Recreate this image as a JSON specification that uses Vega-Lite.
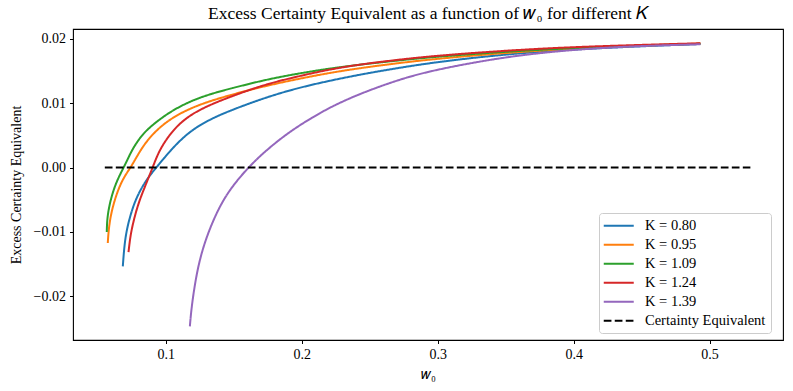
{
  "$schema": "https://vega.github.io/schema/vega-lite/v6.json",
  "width": 710,
  "height": 311,
  "autosize": {"type": "none"},
  "padding": {"left": 73, "top": 29, "right": 10, "bottom": 51},
  "background": "white",
  "config": {
    "font": "Liberation Serif",
    "view": {"stroke": "#000000", "strokeWidth": 1.1},
    "axis": {
      "grid": false,
      "domain": false,
      "tickColor": "#000000",
      "tickSize": 3.5,
      "tickWidth": 1,
      "labelFont": "Liberation Serif",
      "labelFontSize": 14,
      "labelColor": "#000000",
      "titleFont": "Liberation Serif",
      "titleFontSize": 14,
      "titleFontWeight": "normal",
      "titleColor": "#000000"
    }
  },
  "title": {
    "text": "Excess Certainty Equivalent as a function of 𝑤₀ for different 𝐾",
    "frame": "group",
    "anchor": "middle",
    "font": "Liberation Serif",
    "fontSize": 17.5,
    "fontWeight": "normal",
    "color": "#000000",
    "offset": 7
  },
  "data": {
    "values": [
      {"s": "K = 0.80", "w": 0.06834, "v": -0.01538},
      {"s": "K = 0.80", "w": 0.06929, "v": -0.01268},
      {"s": "K = 0.80", "w": 0.07054, "v": -0.01046},
      {"s": "K = 0.80", "w": 0.07297, "v": -0.00813},
      {"s": "K = 0.80", "w": 0.07644, "v": -0.00572},
      {"s": "K = 0.80", "w": 0.08085, "v": -0.00362},
      {"s": "K = 0.80", "w": 0.08697, "v": -0.00152},
      {"s": "K = 0.80", "w": 0.09359, "v": 0.00014},
      {"s": "K = 0.80", "w": 0.09801, "v": 0.00128},
      {"s": "K = 0.80", "w": 0.10420, "v": 0.00283},
      {"s": "K = 0.80", "w": 0.11274, "v": 0.00469},
      {"s": "K = 0.80", "w": 0.12261, "v": 0.00632},
      {"s": "K = 0.80", "w": 0.13483, "v": 0.00772},
      {"s": "K = 0.80", "w": 0.14713, "v": 0.00884},
      {"s": "K = 0.80", "w": 0.17165, "v": 0.01078},
      {"s": "K = 0.80", "w": 0.19625, "v": 0.01234},
      {"s": "K = 0.80", "w": 0.22077, "v": 0.01352},
      {"s": "K = 0.80", "w": 0.24529, "v": 0.01456},
      {"s": "K = 0.80", "w": 0.26988, "v": 0.01545},
      {"s": "K = 0.80", "w": 0.29440, "v": 0.01627},
      {"s": "K = 0.80", "w": 0.33859, "v": 0.01739},
      {"s": "K = 0.80", "w": 0.39013, "v": 0.01829},
      {"s": "K = 0.80", "w": 0.44904, "v": 0.01886},
      {"s": "K = 0.80", "w": 0.49323, "v": 0.01922},

      {"s": "K = 0.95", "w": 0.05729, "v": -0.01175},
      {"s": "K = 0.95", "w": 0.05781, "v": -0.00995},
      {"s": "K = 0.95", "w": 0.05928, "v": -0.00761},
      {"s": "K = 0.95", "w": 0.06171, "v": -0.00553},
      {"s": "K = 0.95", "w": 0.06487, "v": -0.00347},
      {"s": "K = 0.95", "w": 0.06907, "v": -0.00152},
      {"s": "K = 0.95", "w": 0.07423, "v": 0.00005},
      {"s": "K = 0.95", "w": 0.07842, "v": 0.00160},
      {"s": "K = 0.95", "w": 0.08328, "v": 0.00335},
      {"s": "K = 0.95", "w": 0.09065, "v": 0.00530},
      {"s": "K = 0.95", "w": 0.10052, "v": 0.00715},
      {"s": "K = 0.95", "w": 0.11274, "v": 0.00870},
      {"s": "K = 0.95", "w": 0.12747, "v": 0.01001},
      {"s": "K = 0.95", "w": 0.14713, "v": 0.01127},
      {"s": "K = 0.95", "w": 0.17165, "v": 0.01262},
      {"s": "K = 0.95", "w": 0.19625, "v": 0.01374},
      {"s": "K = 0.95", "w": 0.22077, "v": 0.01475},
      {"s": "K = 0.95", "w": 0.24529, "v": 0.01554},
      {"s": "K = 0.95", "w": 0.26988, "v": 0.01622},
      {"s": "K = 0.95", "w": 0.29440, "v": 0.01681},
      {"s": "K = 0.95", "w": 0.33859, "v": 0.01767},
      {"s": "K = 0.95", "w": 0.39013, "v": 0.01841},
      {"s": "K = 0.95", "w": 0.44904, "v": 0.01896},
      {"s": "K = 0.95", "w": 0.49323, "v": 0.01929},

      {"s": "K = 1.09", "w": 0.05655, "v": -0.01004},
      {"s": "K = 1.09", "w": 0.05677, "v": -0.00813},
      {"s": "K = 1.09", "w": 0.05825, "v": -0.00606},
      {"s": "K = 1.09", "w": 0.06075, "v": -0.00398},
      {"s": "K = 1.09", "w": 0.06414, "v": -0.00199},
      {"s": "K = 1.09", "w": 0.06870, "v": -0.00012},
      {"s": "K = 1.09", "w": 0.07224, "v": 0.00143},
      {"s": "K = 1.09", "w": 0.07592, "v": 0.00306},
      {"s": "K = 1.09", "w": 0.08328, "v": 0.00535},
      {"s": "K = 1.09", "w": 0.09315, "v": 0.00715},
      {"s": "K = 1.09", "w": 0.10538, "v": 0.00897},
      {"s": "K = 1.09", "w": 0.12010, "v": 0.01052},
      {"s": "K = 1.09", "w": 0.13483, "v": 0.01156},
      {"s": "K = 1.09", "w": 0.14713, "v": 0.01226},
      {"s": "K = 1.09", "w": 0.17165, "v": 0.01358},
      {"s": "K = 1.09", "w": 0.19625, "v": 0.01459},
      {"s": "K = 1.09", "w": 0.22077, "v": 0.01542},
      {"s": "K = 1.09", "w": 0.24529, "v": 0.01607},
      {"s": "K = 1.09", "w": 0.26988, "v": 0.01663},
      {"s": "K = 1.09", "w": 0.29440, "v": 0.01716},
      {"s": "K = 1.09", "w": 0.33859, "v": 0.01787},
      {"s": "K = 1.09", "w": 0.39013, "v": 0.01852},
      {"s": "K = 1.09", "w": 0.44904, "v": 0.01897},
      {"s": "K = 1.09", "w": 0.49323, "v": 0.01925},

      {"s": "K = 1.24", "w": 0.07253, "v": -0.01315},
      {"s": "K = 1.24", "w": 0.07401, "v": -0.01046},
      {"s": "K = 1.24", "w": 0.07644, "v": -0.00813},
      {"s": "K = 1.24", "w": 0.07960, "v": -0.00572},
      {"s": "K = 1.24", "w": 0.08380, "v": -0.00339},
      {"s": "K = 1.24", "w": 0.08711, "v": -0.00168},
      {"s": "K = 1.24", "w": 0.09028, "v": 0.0},
      {"s": "K = 1.24", "w": 0.09315, "v": 0.00159},
      {"s": "K = 1.24", "w": 0.09683, "v": 0.00322},
      {"s": "K = 1.24", "w": 0.10295, "v": 0.00516},
      {"s": "K = 1.24", "w": 0.11031, "v": 0.00690},
      {"s": "K = 1.24", "w": 0.12010, "v": 0.00845},
      {"s": "K = 1.24", "w": 0.13240, "v": 0.00974},
      {"s": "K = 1.24", "w": 0.14713, "v": 0.01099},
      {"s": "K = 1.24", "w": 0.17165, "v": 0.01285},
      {"s": "K = 1.24", "w": 0.19625, "v": 0.01414},
      {"s": "K = 1.24", "w": 0.22077, "v": 0.01529},
      {"s": "K = 1.24", "w": 0.24529, "v": 0.01611},
      {"s": "K = 1.24", "w": 0.26988, "v": 0.01674},
      {"s": "K = 1.24", "w": 0.29440, "v": 0.01731},
      {"s": "K = 1.24", "w": 0.33859, "v": 0.01803},
      {"s": "K = 1.24", "w": 0.39013, "v": 0.01868},
      {"s": "K = 1.24", "w": 0.44904, "v": 0.01908},
      {"s": "K = 1.24", "w": 0.49323, "v": 0.01933},

      {"s": "K = 1.39", "w": 0.11767, "v": -0.02471},
      {"s": "K = 1.39", "w": 0.11893, "v": -0.02160},
      {"s": "K = 1.39", "w": 0.12261, "v": -0.01641},
      {"s": "K = 1.39", "w": 0.12747, "v": -0.01228},
      {"s": "K = 1.39", "w": 0.13483, "v": -0.00813},
      {"s": "K = 1.39", "w": 0.14470, "v": -0.00398},
      {"s": "K = 1.39", "w": 0.16038, "v": 0.0},
      {"s": "K = 1.39", "w": 0.17415, "v": 0.00275},
      {"s": "K = 1.39", "w": 0.19131, "v": 0.00563},
      {"s": "K = 1.39", "w": 0.20847, "v": 0.00788},
      {"s": "K = 1.39", "w": 0.22077, "v": 0.00935},
      {"s": "K = 1.39", "w": 0.24043, "v": 0.01130},
      {"s": "K = 1.39", "w": 0.26988, "v": 0.01358},
      {"s": "K = 1.39", "w": 0.29440, "v": 0.01503},
      {"s": "K = 1.39", "w": 0.33122, "v": 0.01653},
      {"s": "K = 1.39", "w": 0.36067, "v": 0.01747},
      {"s": "K = 1.39", "w": 0.39013, "v": 0.01814},
      {"s": "K = 1.39", "w": 0.41959, "v": 0.01860},
      {"s": "K = 1.39", "w": 0.44904, "v": 0.01891},
      {"s": "K = 1.39", "w": 0.49323, "v": 0.01918},

      {"s": "Certainty Equivalent", "w": 0.0551, "v": 0.0},
      {"s": "Certainty Equivalent", "w": 0.5300, "v": 0.0}
    ]
  },
  "mark": {"type": "line", "strokeWidth": 2, "interpolate": "basis", "clip": true},
  "encoding": {
    "x": {
      "field": "w",
      "type": "quantitative",
      "scale": {"domain": [0.0317, 0.554], "nice": false, "zero": false},
      "axis": {"values": [0.1, 0.2, 0.3, 0.4, 0.5], "format": ".1f", "title": "𝑤₀", "titlePadding": 6, "labelPadding": 4}
    },
    "y": {
      "field": "v",
      "type": "quantitative",
      "scale": {"domain": [-0.02684, 0.02155], "nice": false, "zero": false},
      "axis": {"values": [-0.02, -0.01, 0.0, 0.01, 0.02], "format": ".2f", "title": "Excess Certainty Equivalent", "titlePadding": 10, "labelPadding": 4}
    },
    "color": {
      "field": "s",
      "type": "nominal",
      "sort": null,
      "scale": {
        "domain": ["K = 0.80", "K = 0.95", "K = 1.09", "K = 1.24", "K = 1.39", "Certainty Equivalent"],
        "range": ["#1f77b4", "#ff7f0e", "#2ca02c", "#d62728", "#9467bd", "#000000"]
      },
      "legend": {
        "title": null,
        "orient": "none",
        "legendX": 526,
        "legendY": 184,
        "symbolType": "M-1.6,0L4.4,0",
        "symbolSize": 100,
        "symbolStrokeWidth": 2,
        "labelFont": "Liberation Serif",
        "labelFontSize": 14.5,
        "labelColor": "#000000",
        "labelOffset": 26,
        "rowPadding": 4,
        "padding": 5.5,
        "strokeColor": "#cccccc",
        "fillColor": "#ffffff",
        "cornerRadius": 3
      }
    },
    "strokeDash": {
      "field": "s",
      "type": "nominal",
      "sort": null,
      "scale": {
        "domain": ["K = 0.80", "K = 0.95", "K = 1.09", "K = 1.24", "K = 1.39", "Certainty Equivalent"],
        "range": [[1, 0], [1, 0], [1, 0], [1, 0], [1, 0], [7.7, 3.3]]
      },
      "legend": {
        "title": null,
        "orient": "none",
        "legendX": 526,
        "legendY": 184,
        "symbolType": "M-1.6,0L4.4,0",
        "symbolSize": 100,
        "symbolStrokeWidth": 2,
        "labelFont": "Liberation Serif",
        "labelFontSize": 14.5,
        "labelColor": "#000000",
        "labelOffset": 26,
        "rowPadding": 4,
        "padding": 5.5,
        "strokeColor": "#cccccc",
        "fillColor": "#ffffff",
        "cornerRadius": 3
      }
    }
  }
}
